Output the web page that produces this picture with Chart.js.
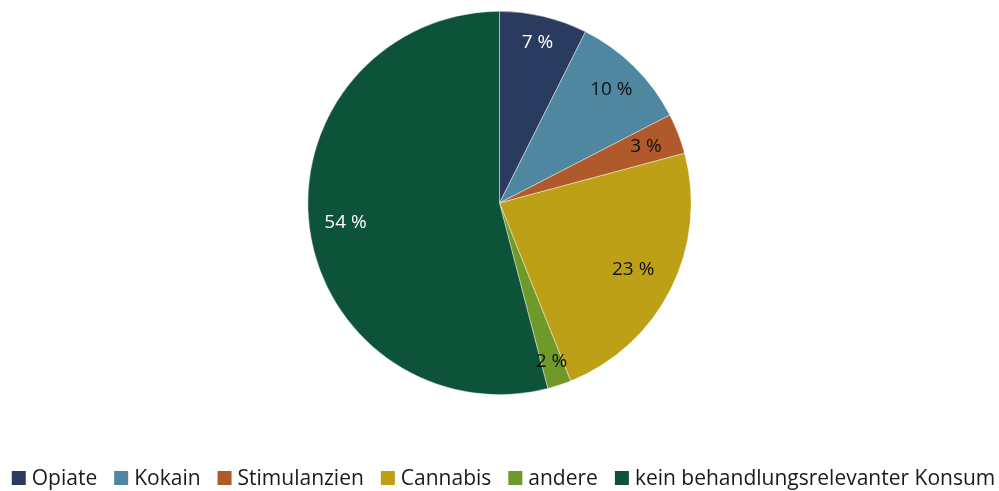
<!DOCTYPE html>
<html>
<head>
<meta charset="utf-8">
<script src="https://cdn.jsdelivr.net/npm/chart.js@4"></script>
<style>
  html, body { margin: 0; padding: 0; background: #fff; }
  #wrap { width: 999px; height: 491px; }
</style>
</head>
<body>
<div id="wrap"><canvas id="pieChart"></canvas></div>
<script>
// Chart data
const categories = ["Opiate", "Kokain", "Stimulanzien", "Cannabis", "andere", "kein behandlungsrelevanter Konsum"];
const shares = [7.4, 10.0, 3.4, 23.1, 2.0, 54.0];
const sliceColors = ["#2b3a5f", "#4f87a1", "#b05a2b", "#bea017", "#6f9a2a", "#0d533a"];
const labelColors = ["#ffffff", "#111111", "#111111", "#111111", "#111111", "#ffffff"];
const labelRadius = [0.86, 0.83, 0.82, 0.78, 0.87, 0.81];

const fontFamily = "'Open Sans', 'Noto Sans', sans-serif";

// Percent labels inside slices
const sliceLabels = {
    id: "sliceLabels",
    afterDatasetsDraw(chart) {
        const ctx = chart.ctx;
        const meta = chart.getDatasetMeta(0);
        ctx.save();
        ctx.font = "19px " + fontFamily;
        ctx.textAlign = "center";
        ctx.textBaseline = "middle";
        meta.data.forEach((arc, i) => {
            const p = arc.getProps(["x", "y", "startAngle", "endAngle", "outerRadius"], true);
            const mid = (p.startAngle + p.endAngle) / 2;
            const r = p.outerRadius * labelRadius[i];
            ctx.fillStyle = labelColors[i];
            ctx.fillText(Math.round(shares[i]) + " %", p.x + Math.cos(mid) * r, p.y + Math.sin(mid) * r);
        });
        ctx.restore();
    }
};

// Legend row under the pie (tighter spacing than the built-in one)
const bottomLegend = {
    id: "bottomLegend",
    afterDraw(chart) {
        const ctx = chart.ctx;
        const box = 14, gap = 6, spacing = 17, y = 478;
        ctx.save();
        ctx.font = "21px " + fontFamily;
        ctx.textBaseline = "middle";
        const widths = categories.map(c => ctx.measureText(c).width);
        let total = widths.reduce((a, b) => a + b, 0) + categories.length * (box + gap) + (categories.length - 1) * spacing;
        let x = (chart.width - total) / 2 + 4;
        categories.forEach((c, i) => {
            ctx.fillStyle = sliceColors[i];
            ctx.fillRect(x, y - box / 2, box, box);
            x += box + gap;
            ctx.fillStyle = "#1a1a1a";
            ctx.fillText(c, x, y + 1);
            x += widths[i] + spacing;
        });
        ctx.restore();
    }
};

const ctx = document.getElementById("pieChart").getContext("2d");

new Chart(ctx, {
    type: "pie",
    data: {
        labels: categories,
        datasets: [{
            data: shares,
            backgroundColor: sliceColors,
            borderColor: "rgba(255,255,255,0.6)",
            borderWidth: 0.7
        }]
    },
    options: {
        responsive: true,
        maintainAspectRatio: false,
        animation: false,
        layout: { padding: { top: 11, bottom: 96 } },
        plugins: {
            tooltip: { enabled: false },
            legend: { display: false }
        }
    },
    plugins: [sliceLabels, bottomLegend]
});
</script>
</body>
</html>
